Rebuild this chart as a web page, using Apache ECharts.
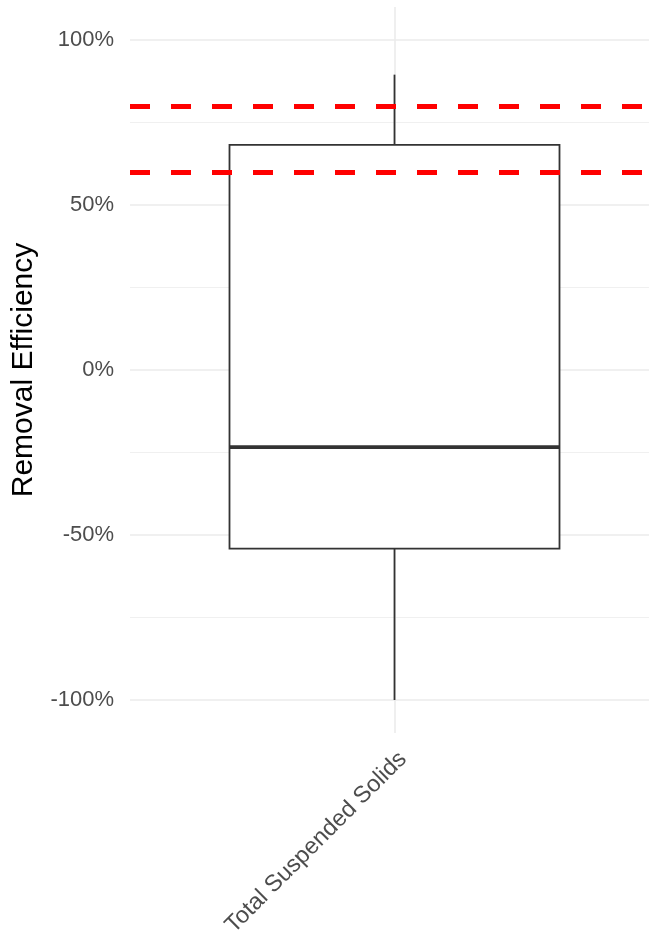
<!DOCTYPE html>
<html>
<head>
<meta charset="utf-8">
<script src="https://cdn.jsdelivr.net/npm/echarts@6/dist/echarts.min.js"></script>
<style>
html,body{margin:0;padding:0;background:#fff;}
#chart{width:649px;height:935px;}
</style>
</head>
<body>
<div id="chart"></div>
<script>
// ---- data ----
const categories = ['Total Suspended Solids'];
const whiskerLow = [-100];
const q1Values = [-54.1];
const medianValues = [-23.4];
const q3Values = [68.2];
const whiskerHigh = [89.5];
const targetLines = [80, 60];
const minorBreaks = [75, 25, -25, -75];
const yLimits = [-110, 110];

const FONT = '"Liberation Sans", Arial, sans-serif';
const BOX_RATIO = 330 / 529;

const boxData = categories.map((c, i) => [i, whiskerLow[i], q1Values[i], medianValues[i], q3Values[i], whiskerHigh[i]]);

const chart = echarts.init(document.getElementById('chart'), null, {renderer: 'canvas'});

chart.setOption({
  animation: false,
  backgroundColor: '#ffffff',
  grid: {left: 130, top: 7, width: 529, bottom: 202, containLabel: false, outerBoundsMode: 'none'},
  xAxis: {
    type: 'category',
    data: categories,
    boundaryGap: true,
    axisLine: {show: false},
    axisTick: {show: false},
    splitLine: {show: false},
    axisLabel: {
      rotate: 45,
      margin: 14,
      fontSize: 23.5,
      verticalAlign: 'top',
      color: '#4d4d4d',
      fontFamily: FONT
    }
  },
  yAxis: {
    type: 'value',
    min: yLimits[0],
    max: yLimits[1],
    splitNumber: 4,
    name: 'Removal Efficiency',
    nameLocation: 'middle',
    nameGap: 91,
    nameTextStyle: {fontSize: 30, color: '#000000', fontFamily: FONT},
    axisLine: {show: false},
    axisTick: {show: false},
    axisLabel: {
      margin: 16,
      fontSize: 22,
      color: '#4d4d4d',
      fontFamily: FONT,
      showMinLabel: false,
      showMaxLabel: false,
      formatter: v => (v % 50 === 0 ? v + '%' : '')
    },
    splitLine: {
      show: true,
      showMinLine: false,
      showMaxLine: false,
      lineStyle: {color: '#ebebeb', width: 1.6}
    }
  },
  series: [
    {
      type: 'scatter',
      data: [],
      z: 0,
      silent: true,
      markLine: {
        z: 0,
        silent: true,
        symbol: ['none', 'none'],
        label: {show: false},
        emphasis: {disabled: true},
        lineStyle: {color: '#f0f0f0', width: 1.2, type: 'solid'},
        data: minorBreaks.map(v => ({yAxis: v})).concat(
          categories.map(c => ({xAxis: c, lineStyle: {color: '#ebebeb', width: 1.6}}))
        )
      }
    },
    {
      type: 'custom',
      z: 2,
      data: boxData,
      encode: {x: 0, y: [1, 2, 3, 4, 5]},
      renderItem: function (params, api) {
        const idx = api.value(0);
        const lo = api.coord([idx, api.value(1)]);
        const q1 = api.coord([idx, api.value(2)]);
        const med = api.coord([idx, api.value(3)]);
        const q3 = api.coord([idx, api.value(4)]);
        const hi = api.coord([idx, api.value(5)]);
        const bw = api.size([1, 0])[0] * BOX_RATIO;
        const cx = med[0];
        const stroke = '#333333';
        return {
          type: 'group',
          children: [
            {type: 'line', shape: {x1: cx, y1: hi[1], x2: cx, y2: q3[1]}, style: {stroke: stroke, lineWidth: 1.8}},
            {type: 'line', shape: {x1: cx, y1: q1[1], x2: cx, y2: lo[1]}, style: {stroke: stroke, lineWidth: 1.8}},
            {type: 'rect', shape: {x: cx - bw / 2, y: q3[1], width: bw, height: q1[1] - q3[1]}, style: {fill: '#ffffff', stroke: stroke, lineWidth: 1.8}},
            {type: 'line', shape: {x1: cx - bw / 2, y1: med[1], x2: cx + bw / 2, y2: med[1]}, style: {stroke: stroke, lineWidth: 3.8}}
          ]
        };
      },
      markLine: {
        z: 5,
        silent: true,
        symbol: ['none', 'none'],
        label: {show: false},
        emphasis: {disabled: true},
        lineStyle: {color: '#ff0000', width: 5, type: [20, 21]},
        data: targetLines.map(v => ({yAxis: v}))
      }
    }
  ]
});
</script>
</body>
</html>
